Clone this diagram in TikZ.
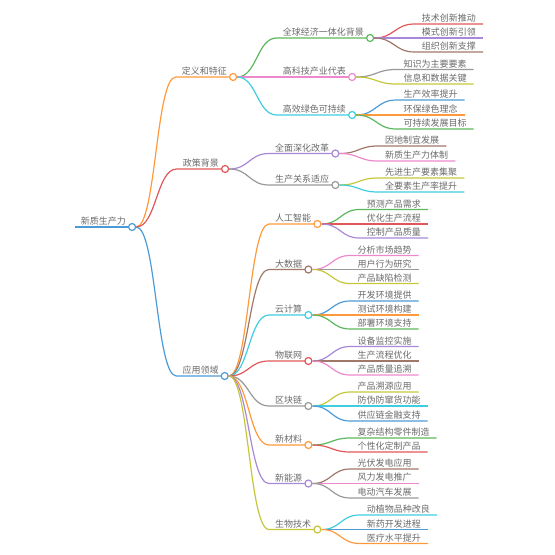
\documentclass[tikz,border=0pt]{standalone}
\usepackage{fontspec}
\newfontfamily\cjk{Noto Sans CJK SC}
\usetikzlibrary{calc}
\definecolor{textgray}{HTML}{6A6A6A}
\definecolor{mblue}{HTML}{4C9BD6}
\definecolor{morange}{HTML}{FF9A3C}
\definecolor{mgreen}{HTML}{5CB85C}
\definecolor{mred}{HTML}{E15759}
\definecolor{mpurple}{HTML}{A888D8}
\definecolor{mbrown}{HTML}{A0786A}
\definecolor{mpink}{HTML}{EE88CC}
\definecolor{mgray}{HTML}{999999}
\definecolor{molive}{HTML}{C6C63A}
\definecolor{mcyan}{HTML}{3FCDE0}

\begin{document}
\begin{tikzpicture}[x=1pt,y=-1pt]
\tikzstyle{topic}=[anchor=south west,inner xsep=6pt,inner ysep=1.5pt,text=textgray,font=\cjk\fontsize{9}{10}\selectfont]
\tikzstyle{leaf}=[topic,inner xsep=7pt]
\tikzstyle{dot}=[circle,draw,fill=white,line width=1.2pt,minimum size=7pt,inner sep=0pt]
\tikzstyle{link}=[line width=1.2pt,to path={.. controls ($(\tikztostart)!0.5!(\tikztotarget |- \tikztostart)$) and ($(\tikztotarget)!0.5!(\tikztostart |- \tikztotarget)$) .. (\tikztotarget)}]
\useasboundingbox (0,0) rectangle (555,555);

% root
\node[topic] (r) at (74.7,227) {新质生产力};
\draw[link,mblue] (r.south west) -- (r.south east);
\node[dot,draw=mblue] (ro) at (r.south east) {};

% main branches
\node[topic] (d) at (175.7,77) {定义和特征};
\node[topic] (p) at (176.7,169) {政策背景};
\node[topic] (a) at (176.3,376) {应用领域};
\draw[link,morange] (ro.east) to (d.south west) -- (d.south east);
\draw[link,mred] (ro.east) to (p.south west) -- (p.south east);
\draw[link,mblue] (ro.east) to (a.south west) -- (a.south east);
\node[dot,draw=morange] (do) at (d.south east) {};
\node[dot,draw=mred] (po) at (p.south east) {};
\node[dot,draw=mblue] (ao) at (a.south east) {};

% definition
\node[topic] (d1) at (276.7,38) {全球经济一体化背景};
\node[topic] (d2) at (276.7,77) {高科技产业代表};
\node[topic] (d3) at (276.7,115) {高效绿色可持续};
\draw[link,mgreen] (do.east) to (d1.south west) -- (d1.south east);
\draw[link,mpink] (do.east) to (d2.south west) -- (d2.south east);
\draw[link,mcyan] (do.east) to (d3.south west) -- (d3.south east);
\node[dot,draw=mgreen] (d1o) at (d1.south east) {};
\node[dot,draw=mpink] (d2o) at (d2.south east) {};
\node[dot,draw=mcyan] (d3o) at (d3.south east) {};

\node[leaf] (d11) at (414.7,24) {技术创新推动};
\node[leaf] (d12) at (414.7,38) {模式创新引领};
\node[leaf] (d13) at (414.7,52) {组织创新支撑};
\draw[link,mred] (d1o.east) to (d11.south west) -- (d11.south east);
\draw[link,mpurple] (d1o.east) to (d12.south west) -- (d12.south east);
\draw[link,mbrown] (d1o.east) to (d13.south west) -- (d13.south east);

\node[leaf] (d21) at (396.3,69.5) {知识为主要要素};
\node[leaf] (d22) at (396.3,84) {信息和数据关键};
\draw[link,mgray] (d2o.east) to (d21.south west) -- (d21.south east);
\draw[link,molive] (d2o.east) to (d22.south west) -- (d22.south east);

\node[leaf] (d31) at (396.3,100) {生产效率提升};
\node[leaf] (d32) at (396.3,115) {环保绿色理念};
\node[leaf] (d33) at (396.3,129) {可持续发展目标};
\draw[link,mblue] (d3o.east) to (d31.south west) -- (d31.south east);
\draw[link,morange] (d3o.east) to (d32.south west) -- (d32.south east);
\draw[link,mgreen] (d3o.east) to (d33.south west) -- (d33.south east);

% policy
\node[topic] (p1) at (269,153.5) {全面深化改革};
\node[topic] (p2) at (269,185) {生产关系适应};
\draw[link,mpurple] (po.east) to (p1.south west) -- (p1.south east);
\draw[link,mgray] (po.east) to (p2.south west) -- (p2.south east);
\node[dot,draw=mpurple] (p1o) at (p1.south east) {};
\node[dot,draw=mgray] (p2o) at (p2.south east) {};

\node[leaf] (p11) at (378,146) {因地制宜发展};
\node[leaf] (p12) at (378,161) {新质生产力体制};
\node[leaf] (p21) at (378,178) {先进生产要素集聚};
\node[leaf] (p22) at (378,192) {全要素生产率提升};
\draw[link,mbrown] (p1o.east) to (p11.south west) -- (p11.south east);
\draw[link,mpink] (p1o.east) to (p12.south west) -- (p12.south east);
\draw[link,molive] (p2o.east) to (p21.south west) -- (p21.south east);
\draw[link,mcyan] (p2o.east) to (p22.south west) -- (p22.south east);

% applications
\node[topic] (a1) at (269,224) {人工智能};
\node[topic] (a2) at (269,269.5) {大数据};
\node[topic] (a3) at (269,315) {云计算};
\node[topic] (a4) at (269,361) {物联网};
\node[topic] (a5) at (269,406) {区块链};
\node[topic] (a6) at (269,445) {新材料};
\node[topic] (a7) at (269,483.5) {新能源};
\node[topic] (a8) at (269,529.5) {生物技术};
\draw[link,morange] (ao.east) to (a1.south west) -- (a1.south east);
\draw[link,mbrown] (ao.east) to (a2.south west) -- (a2.south east);
\draw[link,mcyan] (ao.east) to (a3.south west) -- (a3.south east);
\draw[link,mred] (ao.east) to (a4.south west) -- (a4.south east);
\draw[link,mgray] (ao.east) to (a5.south west) -- (a5.south east);
\draw[link,morange] (ao.east) to (a6.south west) -- (a6.south east);
\draw[link,mpurple] (ao.east) to (a7.south west) -- (a7.south east);
\draw[link,molive] (ao.east) to (a8.south west) -- (a8.south east);
\node[dot,draw=morange] (a1o) at (a1.south east) {};
\node[dot,draw=mbrown] (a2o) at (a2.south east) {};
\node[dot,draw=mcyan] (a3o) at (a3.south east) {};
\node[dot,draw=mred] (a4o) at (a4.south east) {};
\node[dot,draw=mgray] (a5o) at (a5.south east) {};
\node[dot,draw=morange] (a6o) at (a6.south east) {};
\node[dot,draw=mpurple] (a7o) at (a7.south east) {};
\node[dot,draw=molive] (a8o) at (a8.south east) {};

\node[leaf] (a11) at (359.7,209.5) {预测产品需求};
\node[leaf] (a12) at (359.7,224) {优化生产流程};
\node[leaf] (a13) at (359.7,238) {控制产品质量};
\draw[link,mgreen] (a1o.east) to (a11.south west) -- (a11.south east);
\draw[link,mred] (a1o.east) to (a12.south west) -- (a12.south east);
\draw[link,mpurple] (a1o.east) to (a13.south west) -- (a13.south east);

\node[leaf] (a21) at (350.3,255.5) {分析市场趋势};
\node[leaf] (a22) at (350.3,269.5) {用户行为研究};
\node[leaf] (a23) at (350.3,283.5) {产品缺陷检测};
\draw[link,mpink] (a2o.east) to (a21.south west) -- (a21.south east);
\draw[link,mgray] (a2o.east) to (a22.south west) -- (a22.south east);
\draw[link,molive] (a2o.east) to (a23.south west) -- (a23.south east);

\node[leaf] (a31) at (350.3,301) {开发环境提供};
\node[leaf] (a32) at (350.3,315) {测试环境构建};
\node[leaf] (a33) at (350.3,329) {部署环境支持};
\draw[link,mblue] (a3o.east) to (a31.south west) -- (a31.south east);
\draw[link,morange] (a3o.east) to (a32.south west) -- (a32.south east);
\draw[link,mgreen] (a3o.east) to (a33.south west) -- (a33.south east);

\node[leaf] (a41) at (350.3,346.5) {设备监控实施};
\node[leaf] (a42) at (350.3,361) {生产流程优化};
\node[leaf] (a43) at (350.3,375) {产品质量追溯};
\draw[link,mpurple] (a4o.east) to (a41.south west) -- (a41.south east);
\draw[link,mbrown] (a4o.east) to (a42.south west) -- (a42.south east);
\draw[link,mpink] (a4o.east) to (a43.south west) -- (a43.south east);

\node[leaf] (a51) at (350.3,392) {产品溯源应用};
\node[leaf] (a52) at (350.3,406) {防伪防窜货功能};
\node[leaf] (a53) at (350.3,421) {供应链金融支持};
\draw[link,molive] (a5o.east) to (a51.south west) -- (a51.south east);
\draw[link,mcyan] (a5o.east) to (a52.south west) -- (a52.south east);
\draw[link,mblue] (a5o.east) to (a53.south west) -- (a53.south east);

\node[leaf] (a61) at (350.3,438) {复杂结构零件制造};
\node[leaf] (a62) at (350.3,452) {个性化定制产品};
\draw[link,mgreen] (a6o.east) to (a61.south west) -- (a61.south east);
\draw[link,mred] (a6o.east) to (a62.south west) -- (a62.south east);

\node[leaf] (a71) at (350.3,469) {光伏发电应用};
\node[leaf] (a72) at (350.3,483.5) {风力发电推广};
\node[leaf] (a73) at (350.3,498) {电动汽车发展};
\draw[link,mbrown] (a7o.east) to (a71.south west) -- (a71.south east);
\draw[link,mpink] (a7o.east) to (a72.south west) -- (a72.south east);
\draw[link,mgray] (a7o.east) to (a73.south west) -- (a73.south east);

\node[leaf] (a81) at (359.7,515) {动植物品种改良};
\node[leaf] (a82) at (359.7,529.5) {新药开发进程};
\node[leaf] (a83) at (359.7,543.5) {医疗水平提升};
\draw[link,mcyan] (a8o.east) to (a81.south west) -- (a81.south east);
\draw[link,mblue] (a8o.east) to (a82.south west) -- (a82.south east);
\draw[link,morange] (a8o.east) to (a83.south west) -- (a83.south east);
\end{tikzpicture}
\end{document}
